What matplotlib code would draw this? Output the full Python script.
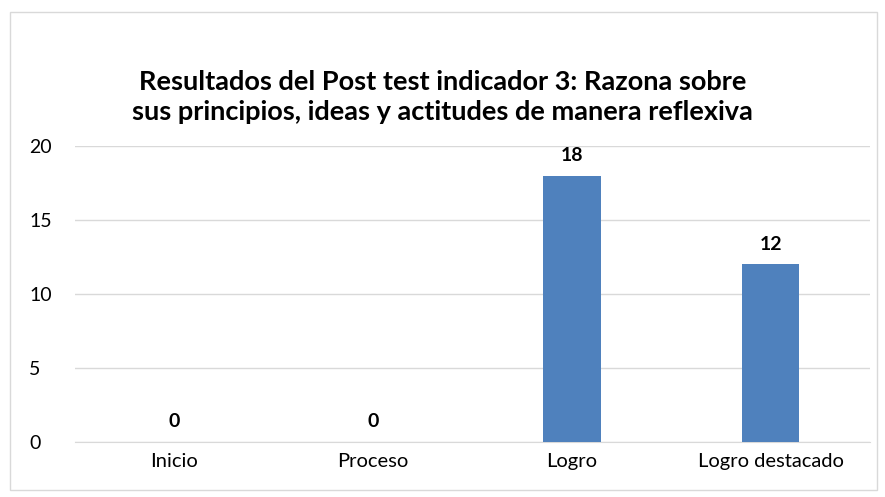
import matplotlib.pyplot as plt
from matplotlib.patches import Rectangle

categories = ["Inicio", "Proceso", "Logro", "Logro destacado"]
values = [0, 0, 18, 12]
yticks = [0, 5, 10, 15, 20]

plt.rcParams['font.family'] = ['Lato', 'DejaVu Sans']

fig = plt.figure(figsize=(8.85, 4.97), dpi=100)
ax = fig.add_axes([0.0847, 0.1107, 0.8983, 0.5955])

x = list(range(len(categories)))
ax.bar(x, values, width=0.29, color="#4F81BD", zorder=3)
for xi, v in zip(x, values):
    ax.text(xi, v + 0.8, str(v), ha="center", va="bottom",
            fontsize=14, fontweight="bold", color="black")

ax.set_xlim(-0.5, 3.5)
ax.set_ylim(0, 20)
ax.set_yticks(yticks)
ax.set_xticks(x)
ax.set_xticklabels(categories, fontsize=14.5)
ax.tick_params(axis="y", labelsize=14, length=0, pad=33)
ax.tick_params(axis="x", length=0, pad=8)
ax.grid(axis="y", color="#D9D9D9", linewidth=1, zorder=0)
for s in ["top", "right", "left"]:
    ax.spines[s].set_visible(False)
ax.spines["bottom"].set_color("#D9D9D9")
for lab in ax.get_yticklabels():
    lab.set_horizontalalignment("left")

fig.text(0.5, 0.804, "Resultados del Post test indicador 3: Razona sobre\n"
         "sus principios, ideas y actitudes de manera reflexiva",
         ha="center", va="center", fontsize=19.5, fontweight="bold",
         linespacing=1.3)

fig.patches.append(Rectangle((0.011, 0.014), 0.98, 0.962, transform=fig.transFigure,
                             fill=False, edgecolor="#D9D9D9", linewidth=1))

fig.savefig("out.png", dpi=100)
